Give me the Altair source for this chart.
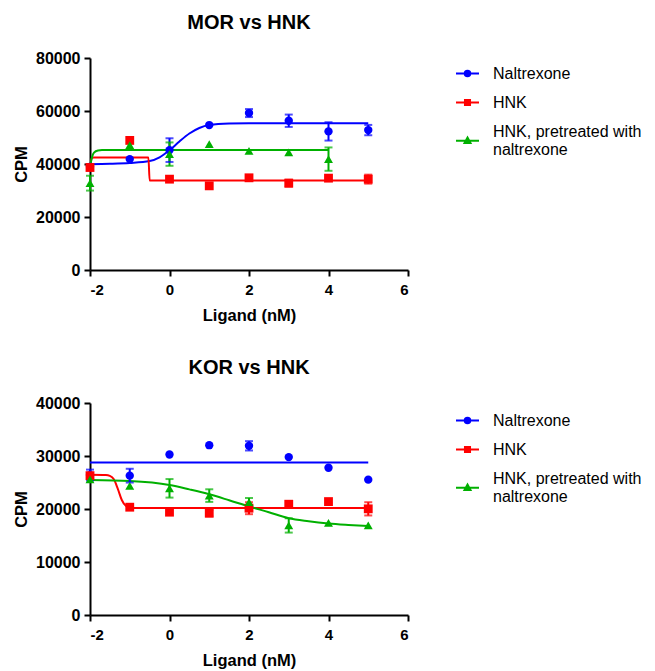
import altair as alt
import pandas as pd

FONT = "Liberation Sans"

series_names = ["Naltrexone", "HNK", "HNK, pretreated with naltrexone"]
series_colors = ["#0000FF", "#FF0000", "#00B000"]
point_shapes = ["circle", "square", "triangle-up"]
# legend glyphs: short line with the marker in the middle (third one sits lower,
# centred on its two-line label)
legend_paths = [
    "M-1,0H1M-0.24,0A0.24,0.24 0 1,0 0.24,0A0.24,0.24 0 1,0 -0.24,0Z",
    "M-1,0H1M-0.22,-0.22H0.22V0.22H-0.22Z",
    "M-1,0.8H1M0,0.52L0.26,1.0H-0.26Z",
]

x_pts = [-2, -1, 0, 1, 2, 3, 4, 5]

# ---- MOR vs HNK ----
mor_nal = [38930, 41840, 45240, 54690, 59220, 56320, 52300, 52800]
mor_nal_err = [0, 0, 4470, 0, 1510, 2330, 3460, 1950]
mor_hnk = [38680, 48900, 34280, 31760, 34790, 32770, 34660, 34280]
mor_hnk_err = [0, 0, 0, 0, 0, 1300, 0, 1700]
mor_pre_x = [-2, -1, 0, 1, 2, 3, 4]
mor_pre = [32770, 47130, 43730, 47510, 44990, 44360, 41840]
mor_pre_err = [2800, 0, 4410, 0, 0, 0, 4410]

mor_nal_fit_x = [-2, -1.5, -1, -0.5, -0.25, 0, 0.25, 0.5, 0.75, 1, 1.5, 2, 3, 4, 5]
mor_nal_fit_y = [39950, 40100, 40400, 41100, 42500, 45200, 48500, 51500, 53600, 54700, 55300, 55400, 55400, 55400, 55400]
mor_hnk_fit_x = [-2, -1.95, -1.9, -0.53, -0.5, 5]
mor_hnk_fit_y = [38700, 42300, 42480, 42480, 33790, 33790]
mor_pre_fit_x = [-2, -1.95, -1.9, -1.8, -1.7, 4]
mor_pre_fit_y = [39000, 42500, 44300, 45100, 45240, 45240]

# ---- KOR vs HNK ----
kor_nal = [26400, 26290, 30290, 32040, 31920, 29790, 27790, 25540]
kor_nal_err = [1030, 1300, 0, 0, 880, 0, 0, 0]
kor_hnk = [26290, 20340, 19400, 19210, 20150, 20900, 21400, 20030]
kor_hnk_err = [0, 0, 0, 600, 1130, 0, 0, 1250]
kor_pre_x = [-2, -1, 0, 1, 2, 3, 4, 5]
kor_pre = [25600, 24340, 23900, 22530, 21280, 16900, 17390, 16900]
kor_pre_err = [0, 0, 1750, 1190, 800, 1350, 0, 0]

kor_nal_fit_x = [-2, 5]
kor_nal_fit_y = [28790, 28790]
kor_hnk_fit_x = [-2, -1.6, -1.5, -1.4, -1.3, -1.2, -1.1, -1.0, -0.9, 5]
kor_hnk_fit_y = [26450, 26400, 26250, 25600, 23800, 21700, 20600, 20300, 20200, 20200]
kor_pre_fit_x = [-2, -1, 0, 0.5, 1, 1.5, 2, 2.5, 3, 3.5, 4, 4.5, 5]
kor_pre_fit_y = [25470, 25280, 24530, 23700, 22780, 21650, 20470, 19400, 18270, 17700, 17280, 17000, 16770]

x_ticks = [-2, 0, 2, 4, 6]

W, H = 318, 212


def build_points(xs_list, ys_list, errs_list):
    rows = []
    for name, xs, ys, es in zip(series_names, xs_list, ys_list, errs_list):
        for xv, yv, ev in zip(xs, ys, es):
            rows.append({"x": xv, "y": yv, "err": ev, "series": name,
                         "lo": yv - ev, "hi": yv + ev})
    return pd.DataFrame(rows)


def build_fits(fx_list, fy_list):
    rows = []
    for name, xs, ys in zip(series_names, fx_list, fy_list):
        for i, (xv, yv) in enumerate(zip(xs, ys)):
            rows.append({"x": xv, "y": yv, "series": name, "i": i})
    return pd.DataFrame(rows)


def panel(title, pts, fits, ymax, ystep, leg_drop):
    xsc = alt.Scale(domain=[-2, 6], nice=False, zero=False)
    ysc = alt.Scale(domain=[0, ymax], nice=False)
    # colour scale for the drawn marks (its domain order differs from the legend's,
    # so its hidden legend is not merged with the visible one)
    csc = alt.Scale(domain=list(reversed(series_names)), range=list(reversed(series_colors)))
    xax = alt.Axis(values=x_ticks, title="Ligand (nM)", labelExpr="'' + datum.value",
                   labelFontSize=15, labelPadding=6)
    yax = alt.Axis(values=list(range(0, ymax + 1, ystep)), title="CPM", format="d",
                   labelFontSize=16, labelPadding=4, titlePadding=6)
    X = alt.X("x:Q", scale=xsc, axis=xax)
    Y = alt.Y("y:Q", scale=ysc, axis=yax)
    C = alt.Color("series:N", scale=csc, legend=None)

    lines = alt.Chart(fits).mark_line(strokeWidth=2, interpolate="monotone", clip=False).encode(
        x=X, y=Y, color=C, order="i:Q"
    )
    errd = pts[pts["err"] > 0]
    rules = alt.Chart(errd).mark_rule(strokeWidth=2).encode(
        x=X, y=alt.Y("lo:Q", scale=ysc, axis=yax), y2="hi:Q", color=C
    )
    cap_lo = alt.Chart(errd).mark_tick(orient="horizontal", size=8, thickness=2).encode(
        x=X, y=alt.Y("lo:Q", scale=ysc, axis=yax), color=C
    )
    cap_hi = alt.Chart(errd).mark_tick(orient="horizontal", size=8, thickness=2).encode(
        x=X, y=alt.Y("hi:Q", scale=ysc, axis=yax), color=C
    )
    point_layers = []
    for name, shp, sz in zip(series_names, point_shapes, [70, 78, 80]):
        point_layers.append(
            alt.Chart(pts[pts["series"] == name]).mark_point(
                filled=True, shape=shp, size=sz, opacity=1, clip=False
            ).encode(x=X, y=Y, color=C)
        )
    leg = alt.Legend(
        title=" ",
        titleFontSize=1,
        titlePadding=leg_drop,
        symbolSize=529,
        symbolStrokeWidth=2,
        symbolOpacity=1,
        labelFont=FONT,
        labelFontSize=16,
        labelColor="black",
        labelLimit=300,
        labelOffset=13,
        rowPadding=8,
        offset=47,
        padding=0,
        labelExpr=(
            "datum.label == 'HNK, pretreated with naltrexone' ? "
            "['HNK, pretreated with', 'naltrexone'] : datum.label"
        ),
    )
    legend_layer = alt.Chart(pts).transform_filter("false").mark_point(filled=True, opacity=1).encode(
        x=X, y=Y,
        fill=alt.Fill("series:N", scale=alt.Scale(domain=series_names, range=series_colors), legend=leg),
        stroke=alt.Stroke("series:N", scale=alt.Scale(domain=series_names, range=series_colors), legend=leg),
        shape=alt.Shape("series:N", scale=alt.Scale(domain=series_names, range=legend_paths), legend=leg),
    )
    return alt.layer(lines, rules, cap_lo, cap_hi, *point_layers, legend_layer).properties(
        width=W, height=H,
        title=alt.TitleParams(title, font=FONT, fontSize=20, fontWeight="bold", anchor="middle",
                              frame="group", offset=17, color="black"),
    )


mor_pts = build_points([x_pts, x_pts, mor_pre_x], [mor_nal, mor_hnk, mor_pre],
                       [mor_nal_err, mor_hnk_err, mor_pre_err])
mor_fits = build_fits([mor_nal_fit_x, mor_hnk_fit_x, mor_pre_fit_x],
                      [mor_nal_fit_y, mor_hnk_fit_y, mor_pre_fit_y])
kor_pts = build_points([x_pts, x_pts, kor_pre_x], [kor_nal, kor_hnk, kor_pre],
                       [kor_nal_err, kor_hnk_err, kor_pre_err])
kor_fits = build_fits([kor_nal_fit_x, kor_hnk_fit_x, kor_pre_fit_x],
                      [kor_nal_fit_y, kor_hnk_fit_y, kor_pre_fit_y])

top = panel("MOR vs HNK", mor_pts, mor_fits, 80000, 20000, 2)
bottom = panel("KOR vs HNK", kor_pts, kor_fits, 40000, 10000, 4)

chart = alt.vconcat(top, bottom, spacing=34).resolve_scale(
    fill="independent", stroke="independent", shape="independent", color="independent",
    x="independent", y="independent",
).resolve_legend(
    fill="independent", stroke="independent", shape="independent", color="independent"
).configure_view(stroke=None).configure_axis(
    domainColor="black", domainWidth=2, tickColor="black", tickWidth=2, tickSize=6,
    labelFont=FONT, labelFontWeight="bold", labelColor="black",
    titleFont=FONT, titleFontSize=16.5, titleFontWeight="bold", titleColor="black",
    grid=False,
).configure_axisX(titlePadding=10)

chart.save("out.html", embed_options={"renderer": "svg", "actions": False})
